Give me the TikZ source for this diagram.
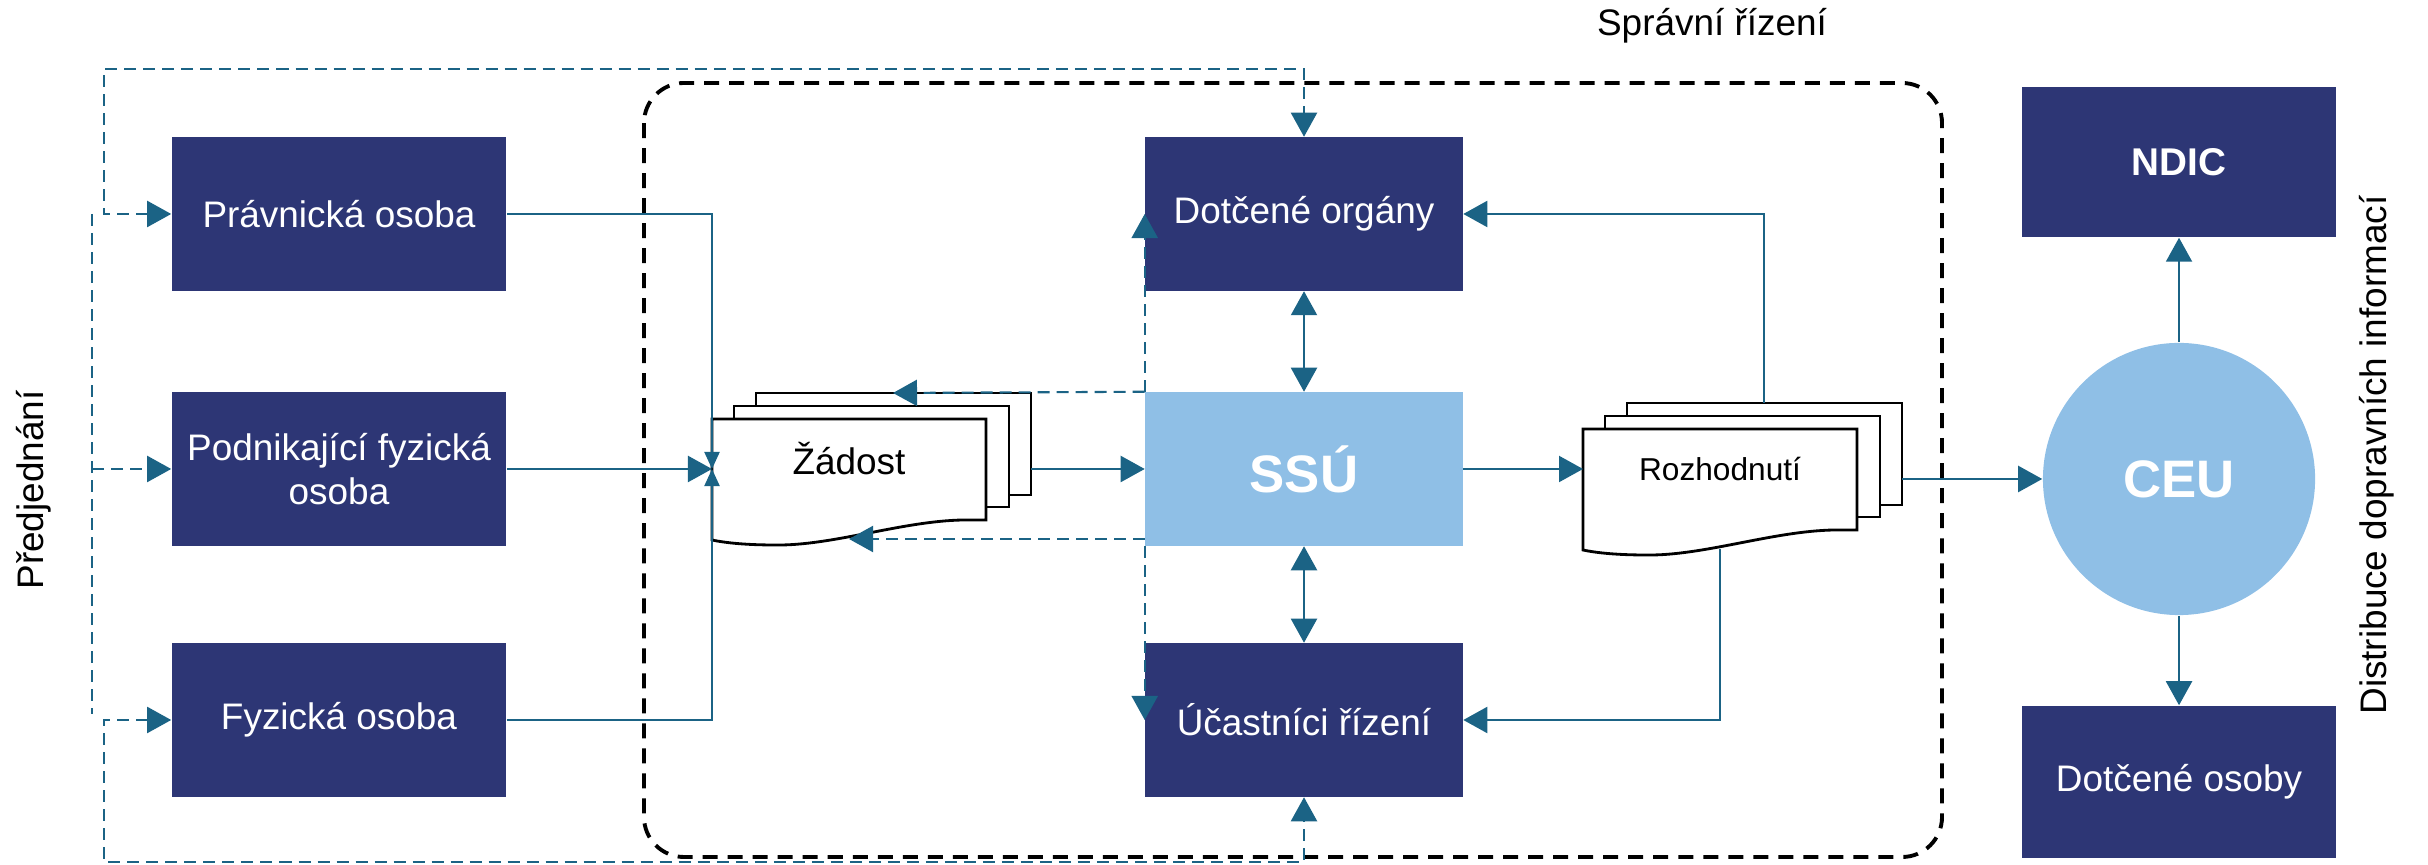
\documentclass[tikz,border=0pt]{standalone}
\usepackage{fontspec}
\setmainfont{Liberation Sans}
\usetikzlibrary{arrows.meta}
\definecolor{boxblue}{HTML}{2D3675}
\definecolor{ssublue}{HTML}{8FBFE6}
\definecolor{linkblue}{HTML}{1B6385}

% stack of three pages: name, x, y (top left of front page), text
\newcommand{\docstack}[4]{%
\begin{scope}[shift={(#2,#3)}]
  \filldraw[page] (44,-26) rectangle (319,76);
  \filldraw[page] (22,-13) rectangle (297,88);
  \filldraw[page] (0,0) -- (274,0) -- (274,101) -- (251,101)
     .. controls (190,102) and (120,127) .. (63,126)
     .. controls (35,126) and (14,124) .. (0,121) -- cycle;
  \node (#1) at (137,40) {#4};
  \coordinate (#1-w) at (0,50);
  \coordinate (#1-e) at (319,50);
  \coordinate (#1-t) at (181,-26);
  \coordinate (#1-b) at (137,120);
\end{scope}}

\begin{document}
\begin{tikzpicture}[x=0.01cm,y=-0.01cm,
  font=\fontsize{10.5}{12.6}\selectfont,
  >={Triangle[length=2.4mm,width=2.6mm]},
  box/.style={fill=boxblue, text=white, align=center, inner sep=2pt,
    minimum width=3.34cm, minimum height=1.53cm},
  midbox/.style={box, minimum width=3.17cm},
  page/.style={fill=white, draw=black, line width=0.8pt},
  link/.style={draw=linkblue, line width=0.6pt},
  dline/.style={link, dash pattern=on 1.2mm off 0.7mm},
  frame/.style={draw=black, line width=1.1pt, dash pattern=on 1.5mm off 1mm, rounded corners=4mm},
  tinytip/.style={-{Triangle[length=1.7mm,width=1.5mm]}}]
\useasboundingbox (0,0) rectangle (2428,865);

% spravni rizeni
\draw[frame] (644,83) rectangle (1942,857);
\node (spr) at (1712,26) {Správní řízení};

% applicants
\node[box] (pravn) at (339,214) {Právnická osoba};
\node[box] (podn) at (339,469) {Podnikající fyzická\\osoba};
\node[box] (fyz) at (339,720) {Fyzická osoba};
\node[rotate=90] (predj) at (34,490) {Předjednání};

% office
\node[midbox] (dotc) at (1304,214) {Dotčené orgány};
\node[midbox, fill=ssublue, font=\fontsize{15}{18}\selectfont\bfseries] (ssu) at (1304,469) {SSÚ};
\node[midbox] (ucast) at (1304,720) {Účastníci řízení};

\docstack{zadost}{712}{419}{Žádost}
\docstack{rozh}{1583}{429}{\fontsize{9}{11}\selectfont Rozhodnutí}

% distribution
\node[circle, fill=ssublue, text=white, minimum size=2.72cm, font=\fontsize{15}{18}\selectfont\bfseries] (ceu) at (2179,479) {CEU};
\node[box, minimum width=3.14cm, minimum height=1.5cm, font=\fontsize{11}{13}\selectfont\bfseries] (ndic) at (2179,162) {NDIC};
\node[box, minimum width=3.13cm, minimum height=1.52cm] (dosob) at (2179,782) {Dotčené osoby};
\node[rotate=90] (distr) at (2377,455) {Distribuce dopravních informací};

% predjednani
\coordinate (tl) at (104,69);
\coordinate (bl) at (104,862);
\coordinate (pj) at (92,0);
\draw[dline,<->] (pravn.west) -- (pravn.west -| tl) -- (tl) -| (dotc.north);
\draw[dline,<->] (fyz.west) -- (fyz.west -| bl) -- (bl) -| (ucast.south);
\draw[dline] (pravn.west -| pj) -- ([yshift=0.06cm]fyz.west -| pj);
\draw[dline,->] (podn.west -| pj) -- (podn.west);

% draw the arrows
\draw[link,tinytip] (pravn.east) -| (zadost-w);
\draw[link,tinytip] (fyz.east) -| (zadost-w);
\draw[link,->] (podn.east) -- (zadost-w);
\draw[link,->] (zadost-e) -- (ssu.west);
\draw[dline,->] (ssu.north west) -- (zadost-t);
\draw[dline,->] (ssu.west |- zadost-b) -- (zadost-b);
\draw[dline,->] (ssu.north west) -- (dotc.west);
\draw[dline,->] (ssu.south west) -- (ucast.west);
\draw[link,<->] (dotc) -- (ssu);
\draw[link,<->] (ssu) -- (ucast);
\draw[link,->] (ssu.east) -- (ssu.east -| rozh-w);
\draw[link,->] (rozh-t) |- (dotc.east);
\draw[link,->] (rozh-b) |- (ucast.east);
\draw[link,->] (rozh-e) -- (ceu.west);
\draw[link,->] (ceu) -- (ndic);
\draw[link,->] (ceu) -- (dosob);

\end{tikzpicture}
\end{document}
